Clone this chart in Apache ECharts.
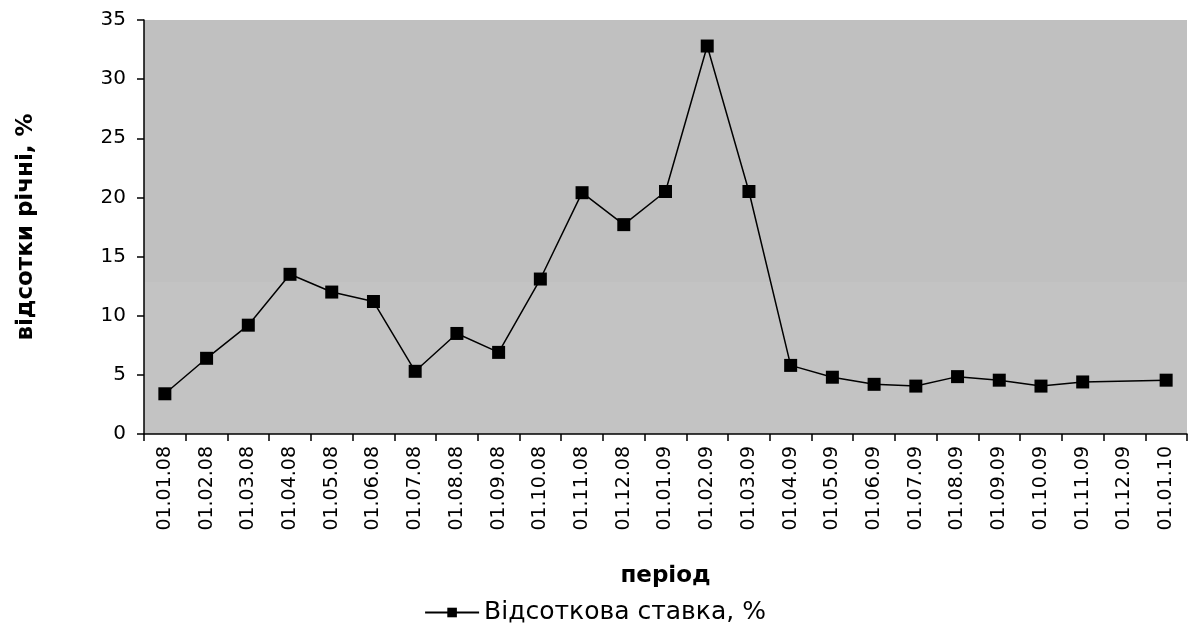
<!DOCTYPE html>
<html>
<head>
<meta charset="utf-8">
<script src="https://cdn.jsdelivr.net/npm/echarts@6/dist/echarts.min.js"></script>
<style>html,body{margin:0;padding:0;background:#fff}#c{width:1190px;height:632px}</style>
</head>
<body>
<div id="c"></div>
<script>
const categories = ["01.01.08","01.02.08","01.03.08","01.04.08","01.05.08","01.06.08","01.07.08","01.08.08","01.09.08","01.10.08","01.11.08","01.12.08","01.01.09","01.02.09","01.03.09","01.04.09","01.05.09","01.06.09","01.07.09","01.08.09","01.09.09","01.10.09","01.11.09","01.12.09","01.01.10"];
const rateValues = [3.4,6.4,9.2,13.5,12.0,11.2,5.3,8.5,6.9,13.1,20.4,17.7,20.5,32.8,20.5,5.8,4.8,4.2,4.05,4.85,4.55,4.05,4.4,null,4.55];
const seriesName = "Відсоткова ставка, %";
const yTitle = "відсотки річні, %";
const xTitle = "період";

const FONT = "'DejaVu Sans', 'Liberation Sans', Arial, sans-serif";
const chart = echarts.init(document.getElementById('c'), null, {renderer:'canvas'});
chart.setOption({
  animation:false,
  backgroundColor:'#ffffff',
  textStyle:{fontFamily:FONT},
  grid:{left:144,top:20,right:3,bottom:198,show:true,borderWidth:0,
    backgroundColor:new echarts.graphic.LinearGradient(0,0,0,1,[
      {offset:0,color:'#c0c0c0'},{offset:0.633,color:'#c0c0c0'},
      {offset:0.633,color:'#c3c3c3'},{offset:1,color:'#c3c3c3'}])},
  legend:{
    data:[seriesName],
    bottom:2,left:'center',
    itemWidth:54,itemHeight:12,
    textStyle:{fontFamily:FONT,fontSize:25,color:'#000'}
  },
  xAxis:{
    type:'category',data:categories,boundaryGap:true,
    name:xTitle,nameLocation:'middle',nameGap:131,
    nameTextStyle:{fontFamily:FONT,fontSize:23,fontWeight:'bold',color:'#000'},
    axisLine:{lineStyle:{color:'#000',width:1.5}},
    axisTick:{show:true,alignWithLabel:false,length:7,lineStyle:{color:'#000',width:1.5}},
    axisLabel:{rotate:90,interval:0,margin:12,fontFamily:FONT,fontSize:19,color:'#000'},
    splitLine:{show:false}
  },
  yAxis:{
    type:'value',min:0,max:35,interval:5,
    name:yTitle,nameLocation:'middle',nameGap:106,nameRotate:90,
    nameTextStyle:{fontFamily:FONT,fontSize:23,fontWeight:'bold',color:'#000'},
    axisLine:{show:true,lineStyle:{color:'#000',width:1.5}},
    axisTick:{show:true,length:7,lineStyle:{color:'#000',width:1.5}},
    axisLabel:{margin:18,fontFamily:FONT,fontSize:20,color:'#000'},
    splitLine:{show:false}
  },
  series:[{
    name:seriesName,type:'line',data:rateValues,connectNulls:true,
    symbol:'rect',symbolSize:13,
    lineStyle:{color:'#000',width:1.5},
    itemStyle:{color:'#000'}
  }]
});
</script>
</body>
</html>
